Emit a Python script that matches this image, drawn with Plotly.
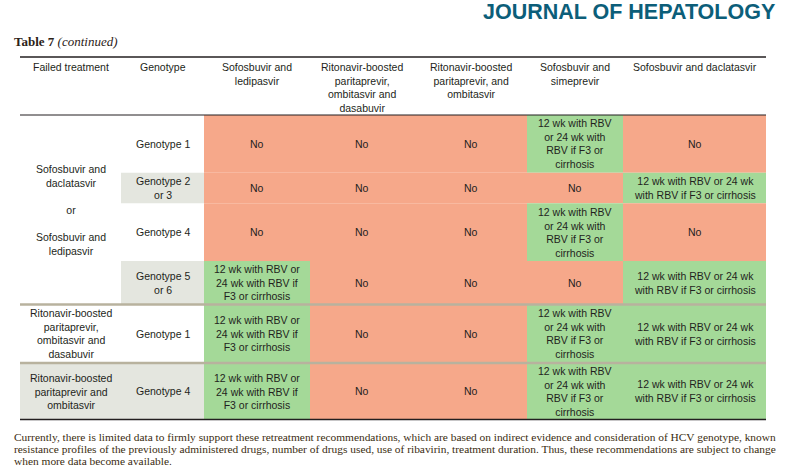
import textwrap
import plotly.graph_objects as go

# ---- table content ----
regimens = ['Sofosbuvir and<br>ledipasvir',
	'Ritonavir-boosted<br>paritaprevir,<br>ombitasvir and<br>dasabuvir',
	'Ritonavir-boosted<br>paritaprevir, and<br>ombitasvir',
	'Sofosbuvir and<br>simeprevir',
	'Sofosbuvir and daclatasvir']
failed_treatments = ['Sofosbuvir and<br>daclatasvir<br><br>or<br><br>Sofosbuvir and<br>ledipasvir',
	'Ritonavir-boosted<br>paritaprevir,<br>ombitasvir and<br>dasabuvir',
	'Ritonavir-boosted<br>paritaprevir and<br>ombitasvir']
failed_rows = [4, 1, 1]  # genotype rows covered by each failed treatment
genotypes = ['Genotype 1', 'Genotype 2<br>or 3', 'Genotype 4', 'Genotype 5<br>or 6', 'Genotype 1', 'Genotype 4']
RBV = '12 wk with RBV or 24 wk with RBV if F3 or cirrhosis'
# one list per regimen column, one entry per genotype row
sof_ledipasvir = ['No', 'No', 'No', RBV, RBV, RBV]
pr_ombitasvir_dasabuvir = ['No', 'No', 'No', 'No', 'No', 'No']
pr_ombitasvir = ['No', 'No', 'No', 'No', 'No', 'No']
sof_simeprevir = [RBV, 'No', RBV, 'No', RBV, RBV]
sof_daclatasvir = ['No', RBV, 'No', RBV, RBV, RBV]
recommendations = [sof_ledipasvir, pr_ombitasvir_dasabuvir, pr_ombitasvir, sof_simeprevir, sof_daclatasvir]

footnote = ['Currently, there is limited data to firmly support these retreatment recommendations, which are based on indirect evidence and consideration of HCV genotype, known',
	'resistance profiles of the previously administered drugs, number of drugs used, use of ribavirin, treatment duration. Thus, these recommendations are subject to change',
	'when more data become available.']

# ---- layout (page pixels) ----
col_edges = [20, 121, 204, 310, 414, 527, 623, 766]
row_edges = [115, 172.7, 203.3, 261, 304.5, 363, 419.5]
header_top = 57
wrap_widths = [17, 17, 17, 14, 27]  # characters per line in each regimen column

NO_COLOR = '#f6a88a'
YES_COLOR = '#a4d998'
SHADE = '#e4e6df'
TEXT = '#231f20'
cell_font = dict(family='Liberation Sans, Arial', size=10.5, color=TEXT)

fig = go.Figure()

def rect(x0, x1, y0, y1, color):
	fig.add_shape(type='rect', xref='x', yref='y', x0=x0, x1=x1, y0=y0, y1=y1,
		fillcolor=color, line_width=0, layer='below')

def label(x, y, text, font=cell_font, xanchor='center', yanchor='middle'):
	fig.add_annotation(x=x, y=y, xref='x', yref='y', text=text, showarrow=False,
		font=font, xanchor=xanchor, yanchor=yanchor, align='center' if xanchor == 'center' else 'left')

def hline(y, color, width):
	fig.add_shape(type='line', xref='x', yref='y', x0=col_edges[0], x1=col_edges[-1], y0=y, y1=y,
		line=dict(color=color, width=width))

# header
headers = ['Failed treatment', 'Genotype'] + regimens
for c, h in enumerate(headers):
	label((col_edges[c] + col_edges[c + 1]) / 2, header_top + 2, h, yanchor='top')

# failed treatment cells (merged over genotype rows)
start = 0
for g, name in enumerate(failed_treatments):
	stop = start + failed_rows[g]
	y0, y1 = row_edges[start], row_edges[stop]
	if failed_rows[g] == 1 and start % 2 == 1:
		rect(col_edges[0], col_edges[1], y0, y1, SHADE)
	label((col_edges[0] + col_edges[1]) / 2, (y0 + y1) / 2, name)
	start = stop

# genotype cells and recommendations
for r, gt in enumerate(genotypes):
	y0, y1 = row_edges[r], row_edges[r + 1]
	ym = (y0 + y1) / 2
	if r % 2 == 1:
		rect(col_edges[1], col_edges[2], y0, y1, SHADE)
	label((col_edges[1] + col_edges[2]) / 2, ym, gt)
	for c, column in enumerate(recommendations):
		value = column[r]
		x0, x1 = col_edges[c + 2], col_edges[c + 3]
		rect(x0, x1, y0, y1, NO_COLOR if value == 'No' else YES_COLOR)
		label((x0 + x1) / 2, ym, '<br>'.join(textwrap.wrap(value, wrap_widths[c])))

# rules
hline(header_top, '#231f20', 1.3)
hline(row_edges[0], '#231f20', 1)
start = 0
for n in failed_rows[:-1]:
	start += n
	hline(row_edges[start], '#b8b29e', 2.5)
hline(row_edges[-1], '#231f20', 1.3)

# titles and footnote
label(777, 12, '<b>JOURNAL OF HEPATOLOGY</b>',
	font=dict(family='Liberation Sans, Arial', size=21.5, color='#0c5e79'), xanchor='right')
label(12, 41, '<b>Table 7</b> <i>(continued)</i>',
	font=dict(family='Liberation Serif, serif', size=13, color='#2b2117'), xanchor='left')
for i, line in enumerate(footnote):
	label(12, 437 + 12 * i, line,
		font=dict(family='Liberation Serif, serif', size=11.4, color='#3a2c10'), xanchor='left')

fig.update_layout(width=790, height=474, margin=dict(l=0, r=0, t=0, b=0),
	paper_bgcolor='white', plot_bgcolor='white', showlegend=False,
	xaxis=dict(range=[0, 790], visible=False, fixedrange=True),
	yaxis=dict(range=[474, 0], visible=False, fixedrange=True))
# drop the default body margin so the figure sits at the page corner
fig.write_html('out.html', config={'displayModeBar': False},
	post_script="document.body.style.margin = '0';")
